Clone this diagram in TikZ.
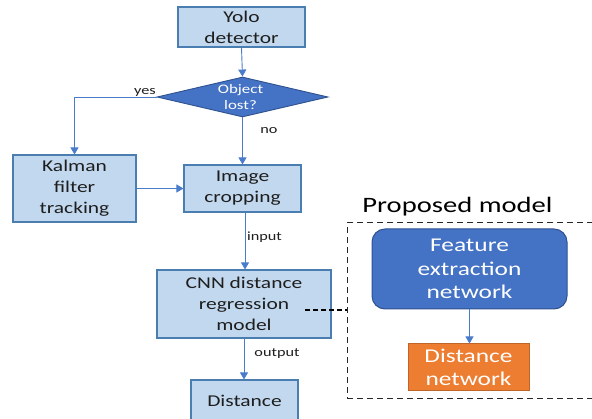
\documentclass[tikz,border=0pt]{standalone}
\usepackage{fontspec}
\setmainfont{Carlito}[FakeStretch=1.3]
\usetikzlibrary{shapes.geometric,arrows.meta}
\definecolor{boxfill}{HTML}{C2D8EF}
\definecolor{boxline}{HTML}{4A7DB0}
\definecolor{flow}{HTML}{4A7CCB}
\definecolor{accent}{HTML}{4472C4}
\definecolor{accentline}{HTML}{2F528F}
\definecolor{orangefill}{HTML}{ED7D31}
\definecolor{orangeline}{HTML}{C0652A}
\definecolor{ink}{HTML}{1E1E1E}
\tikzset{
  x=1pt, y=1pt,
  stepbox/.style={draw=boxline, line width=1.1pt, fill=boxfill, text=ink,
    font=\fontsize{16.5}{21}\selectfont, align=center, inner sep=0pt},
  flowline/.style={draw=flow, line width=0.9pt},
  flowarrow/.style={flowline, -{Triangle[width=8pt,length=7pt]}},
  smalllabel/.style={font=\fontsize{12.5}{14}\selectfont, text=ink, inner sep=0pt},
  bigtext/.style={font=\fontsize{19.5}{23.5}\selectfont, text=white, align=center, inner sep=0pt}
}
\begin{document}
\begin{tikzpicture}
\useasboundingbox (0,0) rectangle (592,-419);
\clip (0,0) rectangle (592,-419);

% main flow chart
\node[stepbox, minimum width=127pt, minimum height=40pt] (yolo) at (241.5,-27) {Yolo\\detector};
\node[diamond, draw=accentline, line width=0.9pt, fill=accent, minimum width=171pt,
      minimum height=40pt, inner sep=0pt] (lost) at (242.5,-97) {};
\node[font=\fontsize{13}{16}\selectfont, text=white, align=center, inner sep=0pt]
      at (240.5,-97) {Object\\lost?};
\node[stepbox, minimum width=123pt, minimum height=67pt] (kalman) at (74.5,-188.5) {Kalman\\filter\\tracking};
\node[stepbox, minimum width=117pt, minimum height=47pt] (crop) at (242.5,-188.5) {Image\\cropping};
\node[stepbox, minimum width=174pt, minimum height=68pt] (cnn) at (244,-304) {CNN distance\\regression\\model};
\node[stepbox, minimum width=107pt, minimum height=42pt] (dist) at (244.5,-401) {Distance};

% proposed model block
\node[draw=black!85, line width=1pt, dash pattern=on 6pt off 4pt, minimum width=290pt,
      minimum height=176pt, inner sep=0pt] (pm) at (492,-311) {};
\node[font=\fontsize{22}{26}\selectfont, text=black, inner sep=0pt] (pmtitle) at (457.5,-207) {Proposed model};
\node[draw=accentline, line width=1pt, fill=accent, rounded corners=13pt,
      minimum width=195pt, minimum height=80pt, bigtext] (feat) at (469.5,-269) {Feature\\extraction\\network};
\node[draw=orangeline, line width=1pt, fill=orangefill, minimum width=121pt,
      minimum height=47pt, bigtext] (dnet) at (468.5,-367.5) {Distance\\network};

% connectors
\draw[flowarrow] (yolo.south) -- (lost.north);
\draw[flowarrow] (lost.west) -| (kalman.north);
\draw[flowarrow] (lost.south) -- (lost.south |- crop.north);
\draw[flowarrow] (kalman.east) -- (crop.west);
\draw[flowarrow] ([xshift=2.5pt]crop.south) -- ([xshift=2.5pt]crop.south |- cnn.north);
\draw[flowarrow] (cnn.south) -- (cnn.south |- dist.north);
\draw[flowarrow] (feat.south) -- (feat.south |- dnet.north);
\coordinate (link) at (305,-310);
\draw[black, line width=1.1pt, dash pattern=on 5pt off 3pt] (link) -- (link -| pm.west);

% branch labels
\node[smalllabel] (yes) at (145,-92.5) {yes};
\node[smalllabel] (no) at (269,-131) {no};
\node[smalllabel] (input) at (264.5,-237) {input};
\node[smalllabel] (output) at (277,-354) {output};
\end{tikzpicture}
\end{document}
